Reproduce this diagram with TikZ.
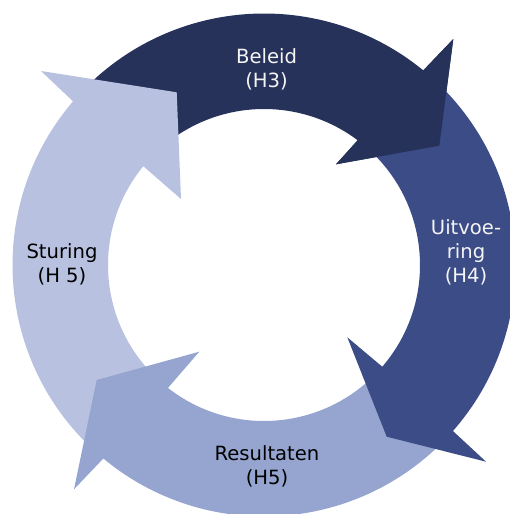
\documentclass[tikz,border=0pt]{standalone}
\usepackage{fontspec}
\setmainfont{DejaVu Sans}
\usetikzlibrary{calc}
\definecolor{cBeleid}{HTML}{263259}
\definecolor{cUitvoering}{HTML}{3B4C86}
\definecolor{cResultaten}{HTML}{95A5D0}
\definecolor{cSturing}{HTML}{B8C2E0}
\definecolor{cLight}{HTML}{F4F4F4}
\begin{document}
\begin{tikzpicture}[x=1pt,y=1pt,
  band/.style={draw=none},
  lbl/.style={align=center, inner sep=0pt, font=\fontsize{19.6}{24}\selectfont}]
\useasboundingbox (0,0) rectangle (510,514);
\clip (0,0) rectangle (510,514);
\coordinate (C) at (264,249);
\def\Ro{251.5}
\def\Ri{156}
% Beleid arrow (full)
\fill[band, cBeleid] ($(C)+(136:\Ro)$) arc[start angle=136, end angle=50.7, radius=\Ro]
  -- (453.3,475) -- (439.3,368.3) -- (336,349.7)
  -- ($(C)+(53.1:\Ri)$) arc[start angle=53.1, end angle=128, radius=\Ri] -- cycle;
% Sturing arrow
\fill[band, cSturing] ($(C)+(-133:\Ro)$) arc[start angle=-133, end angle=-220.6, radius=\Ro]
  -- (41,443) -- (176.7,421.7) -- (181,315)
  -- ($(C)+(-219.3:\Ri)$) arc[start angle=-219.3, end angle=-135, radius=\Ri] -- cycle;
% Resultaten arrow
\fill[band, cResultaten] ($(C)+(-44:\Ro)$) arc[start angle=-44, end angle=-129.7, radius=\Ro]
  -- (74,24.7) -- (96.7,134) -- (199.3,162.3)
  -- ($(C)+(-128:\Ri)$) arc[start angle=-128, end angle=-45, radius=\Ri] -- cycle;
% Uitvoering arrow
\fill[band, cUitvoering] ($(C)+(47:\Ro)$) arc[start angle=47, end angle=-41.3, radius=\Ro]
  -- (486,52.3) -- (386.7,77.3) -- (347.3,176.7)
  -- ($(C)+(-40.7:\Ri)$) arc[start angle=-40.7, end angle=48, radius=\Ri] -- cycle;
% Beleid head on top of the Uitvoering tail
\fill[band, cBeleid] ($(C)+(50.7:\Ro)$) -- (453.3,475) -- (439.3,368.3) -- (336,349.7)
  -- ($(C)+(53.1:\Ri)$) -- cycle;
% labels
\node[lbl, text=cLight] (beleid) at (266.5,445) {Beleid\\(H3)};
\node[lbl, text=cLight] (uitvoering) at (466,262) {Uitvoe-\\ring\\(H4)};
\node[lbl, text=black] (resultaten) at (267,48) {Resultaten\\(H5)};
\node[lbl, text=black] (sturing) at (62,250) {Sturing\\(H 5)};
\end{tikzpicture}
\end{document}
